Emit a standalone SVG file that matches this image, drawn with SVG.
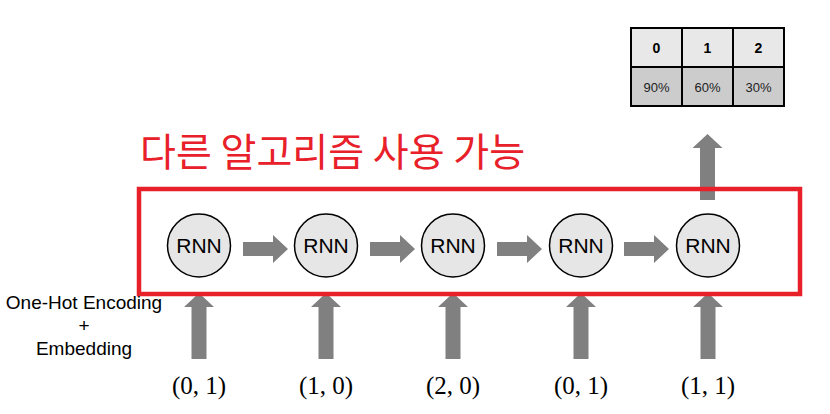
<svg xmlns="http://www.w3.org/2000/svg" width="830" height="414" viewBox="0 0 830 414">
<style>
.rnn circle{fill:#e6e6e6;stroke:#000;stroke-width:1.5}
.rnn text{font-family:"Liberation Sans",Arial,sans-serif;font-size:21px;fill:#000;text-anchor:middle}
.arr{fill:#808080}
.in{font-family:"Liberation Serif","Times New Roman",serif;font-size:25px;fill:#000;text-anchor:middle}
.lbl{font-family:"Liberation Sans",Arial,sans-serif;font-size:19px;fill:#000;text-anchor:middle}
.th{font-family:"Liberation Sans",Arial,sans-serif;font-size:14px;font-weight:bold;fill:#000;text-anchor:middle}
.td{font-family:"Liberation Sans",Arial,sans-serif;font-size:13px;fill:#222;text-anchor:middle}
</style>
<defs>
<path id="ha" d="M0,-7 H30 V-14 L45,0 L30,14 V7 H0 Z"/>
<path id="up" d="M-7.5,0 V-52 H-15 L0,-66 L15,-52 H7.5 V0 Z"/>
</defs>
<rect width="830" height="414" fill="#fff"/>
<g id="table">
<rect x="631" y="28" width="153" height="39" fill="#e8e8e8"/>
<rect x="631" y="67" width="153" height="39" fill="#cccccc"/>
<g stroke="#000" stroke-width="2" fill="none">
<rect x="631" y="28" width="153" height="78"/>
<line x1="631" y1="67" x2="784" y2="67"/>
<line x1="682" y1="28" x2="682" y2="106"/>
<line x1="733" y1="28" x2="733" y2="106"/>
</g>
<text class="th" x="656.5" y="53">0</text>
<text class="th" x="707.5" y="53">1</text>
<text class="th" x="758.5" y="53">2</text>
<text class="td" x="656.5" y="92">90%</text>
<text class="td" x="707.5" y="92">60%</text>
<text class="td" x="758.5" y="92">30%</text>
</g>
<g id="title">
<text x="140" y="166" font-family="'Noto Sans CJK KR','Noto Sans CJK SC',sans-serif" font-size="39" fill="#e8202a">다른 알고리즘 사용 가능</text>
</g>
<g id="connectors">
<use href="#up" class="arr" x="707.5" y="200"/>
<use href="#ha" class="arr" x="243" y="249"/>
<use href="#ha" class="arr" x="370" y="249"/>
<use href="#ha" class="arr" x="497" y="249"/>
<use href="#ha" class="arr" x="624" y="249"/>
<use href="#up" class="arr" x="199" y="359"/>
<use href="#up" class="arr" x="326" y="359"/>
<use href="#up" class="arr" x="453" y="359"/>
<use href="#up" class="arr" x="581" y="359"/>
<use href="#up" class="arr" x="708" y="359"/>
</g>
<g id="box">
<rect x="139" y="189" width="661" height="105" fill="none" stroke="#e8202a" stroke-width="4.5"/>
</g>
<g id="rnn1" class="rnn"><circle cx="199" cy="245.5" r="31.5"/><text x="199" y="253">RNN</text></g>
<g id="rnn2" class="rnn"><circle cx="326" cy="245.5" r="31.5"/><text x="326" y="253">RNN</text></g>
<g id="rnn3" class="rnn"><circle cx="453" cy="245.5" r="31.5"/><text x="453" y="253">RNN</text></g>
<g id="rnn4" class="rnn"><circle cx="581" cy="245.5" r="31.5"/><text x="581" y="253">RNN</text></g>
<g id="rnn5" class="rnn"><circle cx="708" cy="245.5" r="31.5"/><text x="708" y="253">RNN</text></g>
<g id="inputs">
<text class="in" x="199" y="394">(0, 1)</text>
<text class="in" x="326" y="394">(1, 0)</text>
<text class="in" x="453" y="394">(2, 0)</text>
<text class="in" x="581" y="394">(0, 1)</text>
<text class="in" x="708" y="394">(1, 1)</text>
</g>
<g id="label">
<text class="lbl" x="84" y="309">One-Hot Encoding</text>
<text class="lbl" x="84" y="332">+</text>
<text class="lbl" x="84" y="355">Embedding</text>
</g>
</svg>
